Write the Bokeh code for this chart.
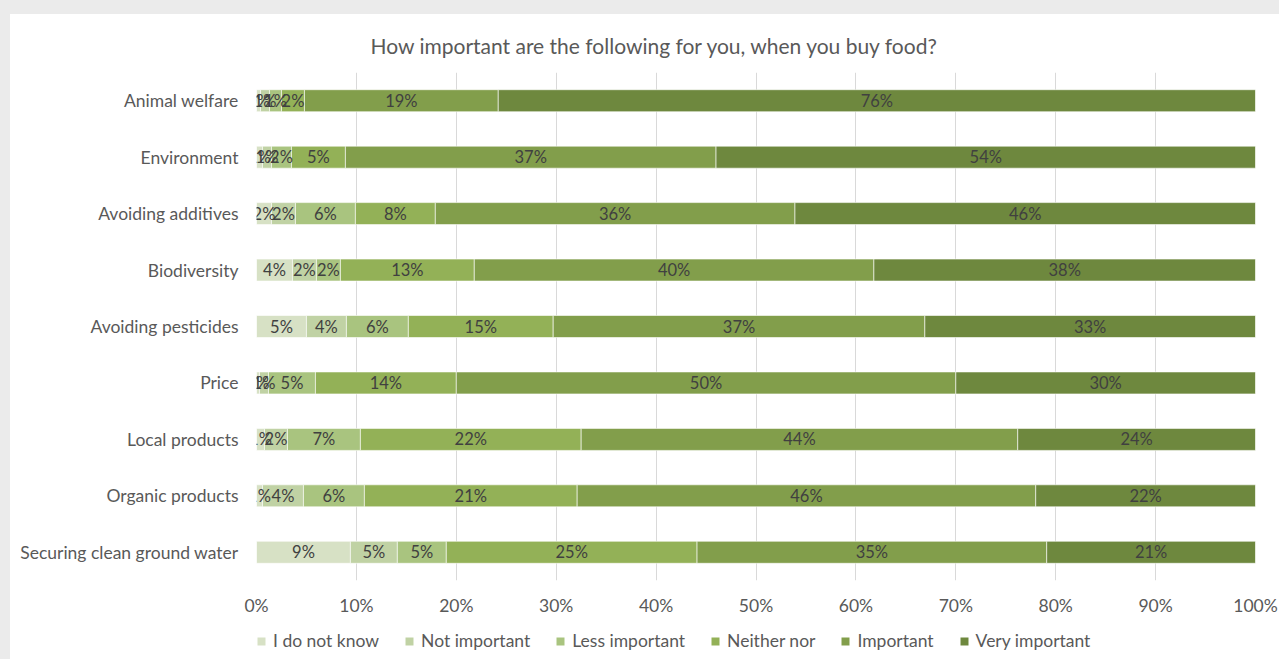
from bokeh.plotting import figure
from bokeh.models import (FactorRange, Range1d, FixedTicker, PrintfTickFormatter,
                          Legend, LegendItem, ColumnDataSource)
from bokeh.layouts import column
from bokeh.embed import file_html
from bokeh.resources import INLINE
from bokeh.core.properties import value

categories = ["Animal welfare", "Environment", "Avoiding additives", "Biodiversity",
              "Avoiding pesticides", "Price", "Local products", "Organic products",
              "Securing clean ground water"]
series = ["I do not know", "Not important", "Less important", "Neither nor",
          "Important", "Very important"]
i_do_not_know = [0.4, 0.6, 1.5, 3.6, 5.0, 0.3, 0.8, 0.6, 9.4]
not_important = [0.9, 0.9, 2.4, 2.4, 4.0, 0.9, 2.3, 4.1, 4.7]
less_important = [1.2, 2.0, 6.0, 2.4, 6.2, 4.7, 7.3, 6.1, 4.9]
neither_nor = [2.3, 5.4, 8.0, 13.4, 14.5, 14.1, 22.1, 21.3, 25.1]
important = [19.4, 37.1, 36.0, 40.0, 37.2, 50.0, 43.7, 45.9, 35.0]
very_important = [75.8, 54.0, 46.1, 38.2, 33.1, 30.0, 23.8, 22.0, 20.9]
x_ticks = [0, 10, 20, 30, 40, 50, 60, 70, 80, 90, 100]
title_text = "How important are the following for you, when you buy food?"

colors = ["#d7e1c5", "#c0d2a4", "#a9c47f", "#93b157", "#829e4b", "#6e883e"]
values = [i_do_not_know, not_important, less_important, neither_nor, important, very_important]
keys = ["s0", "s1", "s2", "s3", "s4", "s5"]

data = {"cat": categories}
for k, v in zip(keys, values):
    data[k] = v
source = ColumnDataSource(data)

FONT = "Lato"
GREY = "#595959"

p = figure(width=1269, height=606, output_backend="svg", toolbar_location=None,
           y_range=FactorRange(factors=list(reversed(categories))),
           x_range=Range1d(0, 100),
           min_border_left=246, min_border_right=24, min_border_top=58,
           min_border_bottom=40, background_fill_color="white",
           border_fill_color="white", outline_line_color=None)

renderers = p.hbar_stack(keys, y="cat", height=0.39, color=colors, source=source,
                         line_color="white", line_width=0.6)

# data labels
lab_x, lab_y, lab_t = [], [], []
for i, c in enumerate(categories):
    left = 0.0
    for v in values:
        val = v[i]
        lab_x.append(left + val / 2.0)
        lab_y.append(c)
        lab_t.append("%d%%" % int(val + 0.5))
        left += val
p.text(x=lab_x, y=lab_y, text=lab_t, text_align="center", text_baseline="middle",
       text_font=value(FONT), text_font_size="16.5px", text_color="#404040")

# axes
p.xaxis.ticker = FixedTicker(ticks=x_ticks)
p.xaxis.formatter = PrintfTickFormatter(format="%d%%")
for ax in (p.xaxis, p.yaxis):
    ax.axis_line_color = None
    ax.major_tick_line_color = None
    ax.minor_tick_line_color = None
    ax.major_label_text_font = FONT
    ax.major_label_text_font_size = "17.5px"
    ax.major_label_text_color = GREY
p.xaxis.major_label_standoff = 8
p.yaxis.major_label_standoff = 12

p.xgrid.grid_line_color = "#d9d9d9"
p.xgrid.grid_line_width = 1
p.ygrid.grid_line_color = None

# title
p.title.text = title_text
p.title.align = "left"
p.title.offset = 114
p.title.text_font = FONT
p.title.text_font_size = "21px"
p.title.text_font_style = "normal"
p.title.text_color = GREY
p.title.standoff = 30

# legend strip (separate figure so the legend is not clipped by the main frame)
lg = figure(width=1269, height=39, output_backend="svg", toolbar_location=None,
            x_range=Range1d(0, 1), y_range=Range1d(0, 1),
            min_border=0, background_fill_color="white",
            border_fill_color="white", outline_line_color=None)
lg.xaxis.visible = False
lg.yaxis.visible = False
lg.xgrid.grid_line_color = None
lg.ygrid.grid_line_color = None
items = []
for s, c in zip(series, colors):
    r = lg.quad(left=[5], right=[6], top=[5], bottom=[4], fill_color=c, line_color=None)
    items.append(LegendItem(label=s, renderers=[r]))
legend = Legend(items=items, orientation="horizontal", location=(0, 8),
                glyph_width=10, glyph_height=10, label_standoff=7, spacing=25,
                padding=0, margin=0, border_line_color=None, background_fill_alpha=0,
                label_text_font=FONT, label_text_font_size="17.5px",
                label_text_color=GREY)
lg.add_layout(legend, "center")

inner = column(p, lg, width=1269, height=645, spacing=0,
               styles={"background-color": "white"})
inner.margin = (14, 0, 0, 10)
layout = column(inner, width=1279, height=659,
                styles={"background-color": "#ebebeb"})

open("out.html", "w").write(file_html(layout, INLINE))
